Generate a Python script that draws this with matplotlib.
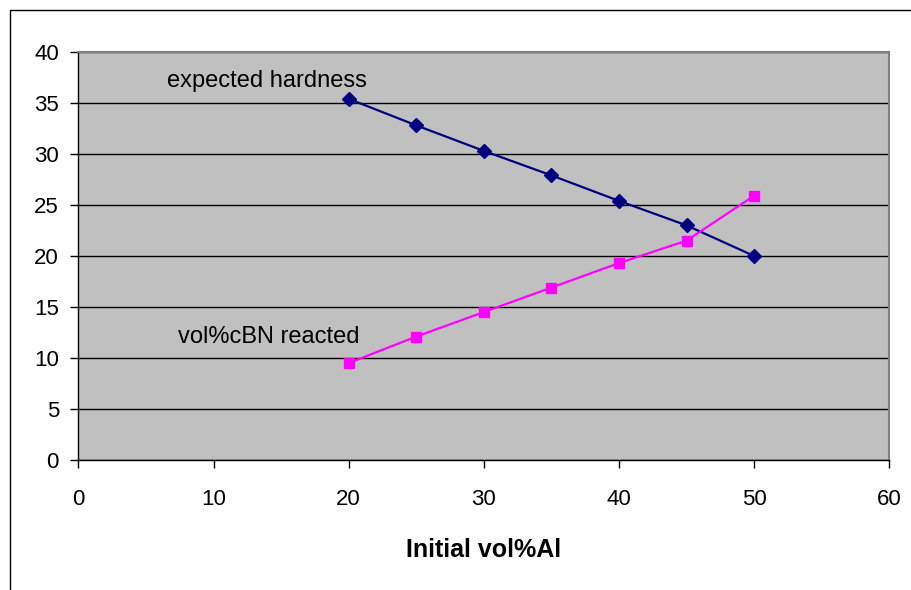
import numpy as np
import matplotlib
matplotlib.use('Agg')
import matplotlib.pyplot as plt
from matplotlib.patches import Rectangle

# data
vol_al = [20, 25, 30, 35, 40, 45, 50]
hardness = [35.4, 32.8, 30.3, 27.9, 25.4, 23.0, 20.0]
cbn_reacted = [9.5, 12.1, 14.5, 16.9, 19.3, 21.5, 25.9]

plt.rcParams.update({
    "font.family": ["Liberation Sans", "DejaVu Sans"],
    "font.size": 12,
})

fig = plt.figure(figsize=(9.12, 5.9), dpi=100)
fig.patch.set_facecolor('white')
# outer chart frame (cropped on right/bottom)
fig.patches.append(Rectangle((10 / 912, -0.1), 1.2, 1 - 10 / 590 + 0.1,
                             transform=fig.transFigure, fill=False,
                             edgecolor='black', linewidth=1))

ax = fig.add_axes([0.086, 0.2203, 0.889, 0.6917])
ax.set_facecolor('#C0C0C0')

ax.plot(vol_al, hardness, color='#000080', marker='D', markersize=7.5,
        linewidth=1.6, zorder=3)
ax.plot(vol_al, cbn_reacted, color='#FF00FF', marker='s', markersize=7.5,
        linewidth=1.6, zorder=3)

ax.set_xlim(0, 60)
ax.set_ylim(0, 40)
ax.set_xticks(np.arange(0, 61, 10))
ax.set_yticks(np.arange(0, 41, 5))
ax.yaxis.grid(True, color='black', linewidth=1)
ax.set_axisbelow(True)

for s in ['top', 'right']:
    ax.spines[s].set_color('#808080')
    ax.spines[s].set_linewidth(1.5)
for s in ['left', 'bottom']:
    ax.spines[s].set_color('black')
    ax.spines[s].set_linewidth(1)

ax.tick_params(axis='both', direction='out', length=6, width=1,
               labelsize=16, colors='black')
ax.tick_params(axis='x', pad=15)
ax.tick_params(axis='y', pad=8)

ax.set_xlabel("Initial vol%Al", fontsize=18, fontweight='bold', labelpad=20)

ax.text(6.52, 36.54, "expected hardness", fontsize=17, va='baseline', ha='left')
ax.text(7.36, 11.44, "vol%cBN reacted", fontsize=17, va='baseline', ha='left')

fig.savefig('out.png', dpi=100)
